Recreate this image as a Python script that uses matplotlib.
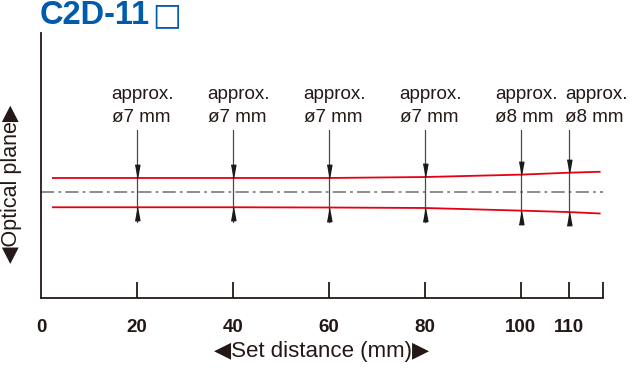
import matplotlib
matplotlib.use("Agg")
import matplotlib.pyplot as plt
import numpy as np

plt.rcParams['font.family'] = ['Liberation Sans', 'DejaVu Sans']
plt.rcParams['lines.scale_dashes'] = False

# ---- data ----
title_text = "C2D-11"
title_mark = "\u25a1"
marker_x = [20, 40, 60, 80, 100, 110]
spot_labels = ["approx.\n\u00f87 mm", "approx.\n\u00f87 mm", "approx.\n\u00f87 mm",
               "approx.\n\u00f87 mm", "approx.\n\u00f88 mm", "approx.\n\u00f88 mm"]
beam_x = [2.3, 20, 40, 60, 80, 100, 110, 116.6]
beam_upper = [3.0, 3.0, 3.0, 3.0, 3.2, 3.7, 4.1, 4.3]
beam_lower = [-3.1, -3.1, -3.1, -3.15, -3.25, -3.8, -4.1, -4.4]
tick_values = [0, 20, 40, 60, 80, 100, 110]
tick_labels = ["0", "20", "40", "60", "80", "100", "110"]
x_end = 117.1

# ---- style ----
INK = "#231815"
RED = "#e60012"
GRAY = "#6e6e6e"
ARROW = "#4a4a4a"
BLUE = "#005bac"

fig = plt.figure(figsize=(6.4, 3.73), dpi=100)
ax = fig.add_axes([41 / 640, 1 - 298 / 373, (603 - 41) / 640, (298 - 33) / 373])
ax.set_xlim(0, x_end)
ax.set_ylim(-22.0, 33.2)

for s in ["top", "right"]:
    ax.spines[s].set_visible(False)
for s in ["left", "bottom"]:
    ax.spines[s].set_color(INK)
    ax.spines[s].set_linewidth(1.3)

ax.set_yticks([])
ax.set_xticks(tick_values + [x_end])
ax.set_xticklabels(tick_labels + [""], fontsize=13.5, fontweight="bold", color=INK)
ax.tick_params(axis="x", direction="in", length=11.5, width=1.3, color=INK, pad=15)
ax.xaxis.get_major_ticks()[0].tick1line.set_visible(False)

# optical axis
ax.plot([0, x_end], [0, 0], color=GRAY, lw=1.1, dashes=(9.5, 3, 2, 3))

# beam edges
ax.plot(beam_x, beam_upper, color=RED, lw=1.3, solid_capstyle="butt")
ax.plot(beam_x, beam_lower, color=RED, lw=1.3, solid_capstyle="butt")

# arrows
down_head = [(-0.18, 1), (0.18, 1), (0, 0)]
up_head = [(-0.18, -1), (0.18, -1), (0, 0)]
label_dx = [-5.3, -5.3, -5.3, -5.3, -5.3, -0.8]
line_top = 13.0
line_bottom = -6.2
for i, x in enumerate(marker_x):
    ax.plot([x, x], [line_bottom, line_top], color=ARROW, lw=0.9)
    yu = float(np.interp(x, beam_x, beam_upper))
    yl = float(np.interp(x, beam_x, beam_lower))
    ax.plot([x], [yu], marker=down_head, markersize=19, color="#1a1a1a", lw=0)
    ax.plot([x], [yl], marker=up_head, markersize=19, color="#1a1a1a", lw=0)
    ax.text(x + label_dx[i], 18.0, spot_labels[i], ha="left", va="center",
            fontsize=13.5, color=INK, linespacing=1.42)

ax.set_xlabel("\u25c0Set distance (mm)\u25b6", fontsize=16, color=INK)
ax.xaxis.set_label_coords((322 - 41) / 562, -(351 - 298) / 265)
ax.xaxis.label.set_va("center")
ax.set_ylabel("\u25c0Optical plane\u25b6", fontsize=15.5, color=INK)
ax.yaxis.set_label_coords((12 - 41) / 562, (298 - 184) / 265)
ax.yaxis.label.set_va("center")

t = fig.text(40 / 640, 1 - 15 / 373, title_text, fontsize=23.5, fontweight="bold",
             color=BLUE, ha="left", va="center")
fig.canvas.draw()
bb = t.get_window_extent()
fig.text((bb.x1 + 2) / 640, 1 - 24 / 373, title_mark, fontsize=22,
         family="DejaVu Sans", color=BLUE, ha="left", va="baseline")

fig.savefig("out.png", dpi=100)
